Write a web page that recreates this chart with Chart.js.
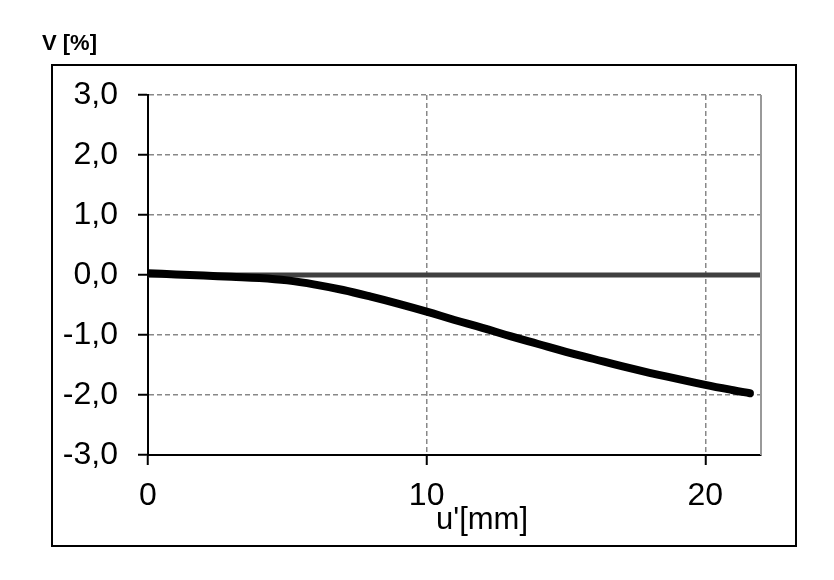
<!DOCTYPE html>
<html>
<head>
<meta charset="utf-8">
<script src="https://cdn.jsdelivr.net/npm/chart.js@4/dist/chart.umd.min.js"></script>
<style>
  html, body { margin: 0; padding: 0; background: #fff; }
  #wrap { position: relative; width: 834px; height: 580px; }
  .lbl { position: absolute; font-family: "Liberation Sans", Arial, sans-serif; color: #000; white-space: nowrap; }
</style>
</head>
<body>
<div id="wrap">
  <canvas id="c" width="834" height="580"></canvas>
  <div class="lbl" style="left:42px; top:30px; font-size:22px; font-weight:bold;">V [%]</div>
  <div class="lbl" style="left:436px; top:501px; font-size:31px;">u'[mm]</div>
</div>
<script>
// displacement u' [mm] and volume change V [%]
const uValues = [0, 1, 2, 3, 4, 5, 6, 7, 8, 9, 10, 11, 12, 13, 14, 15, 16, 17, 18, 19, 20, 21, 21.6];
const vValues = [0.03, 0.01, -0.01, -0.03, -0.05, -0.09, -0.16, -0.25, -0.36, -0.48, -0.61, -0.75, -0.88, -1.02, -1.15, -1.28, -1.40, -1.52, -1.63, -1.73, -1.83, -1.92, -1.97];

// reference line at V = 0
const zeroU = [0, 22];
const zeroV = [0, 0];

const yTicks = [-3, -2, -1, 0, 1, 2, 3];
const xTicks = [0, 10, 20];

const toPoints = (xs, ys) => xs.map((x, i) => ({ x: x, y: ys[i] }));

// outer frame + right edge of the plot area
const framePlugin = {
  id: 'frame',
  afterDraw(chart) {
    const ctx = chart.ctx;
    const a = chart.chartArea;
    ctx.save();
    ctx.strokeStyle = '#999';
    ctx.lineWidth = 2;
    ctx.beginPath();
    ctx.moveTo(a.right, a.top);
    ctx.lineTo(a.right, a.bottom);
    ctx.stroke();
    ctx.strokeStyle = '#000';
    ctx.lineWidth = 2;
    ctx.strokeRect(52, 65, 744, 481);
    ctx.restore();
  }
};

const tickFont = { family: '"Liberation Sans", Arial, sans-serif', size: 32 };

const gridOpts = {
  color: '#888',
  lineWidth: 1.5,
  tickColor: '#000',
  tickWidth: 2,
  tickLength: 10,
  tickBorderDash: []
};

new Chart(document.getElementById('c'), {
  type: 'line',
  data: {
    datasets: [
      {
        data: toPoints(uValues, vValues),
        borderColor: '#000',
        borderWidth: 8,
        borderCapStyle: 'round',
        borderJoinStyle: 'round',
        tension: 0.4,
        pointRadius: 0,
        order: 1
      },
      {
        data: toPoints(zeroU, zeroV),
        borderColor: '#404040',
        borderWidth: 5,
        pointRadius: 0,
        order: 2
      }
    ]
  },
  options: {
    animation: false,
    responsive: false,
    devicePixelRatio: 1,
    parsing: false,
    layout: { padding: { top: 95, right: 73, left: 0, bottom: 0 } },
    plugins: { legend: { display: false }, tooltip: { enabled: false } },
    scales: {
      x: {
        type: 'linear',
        min: 0,
        max: 22,
        afterBuildTicks(scale) {
          scale.ticks = xTicks.map(v => ({ value: v }));
        },
        afterFit(scale) { scale.height = 125; },
        ticks: { font: tickFont, color: '#000', padding: 12, maxRotation: 0 },
        grid: gridOpts,
        // in v4 the gridline dash comes from border.dash
        border: { color: '#000', width: 2, dash: [5, 3] }
      },
      y: {
        min: -3,
        max: 3,
        afterBuildTicks(scale) {
          scale.ticks = yTicks.map(v => ({ value: v }));
        },
        afterFit(scale) { scale.width = 148; },
        ticks: {
          font: tickFont,
          color: '#000',
          padding: 20,
          callback: v => v.toFixed(1).replace('.', ',')
        },
        grid: gridOpts,
        border: { color: '#000', width: 2, dash: [5, 3] }
      }
    }
  },
  plugins: [framePlugin]
});
</script>
</body>
</html>
